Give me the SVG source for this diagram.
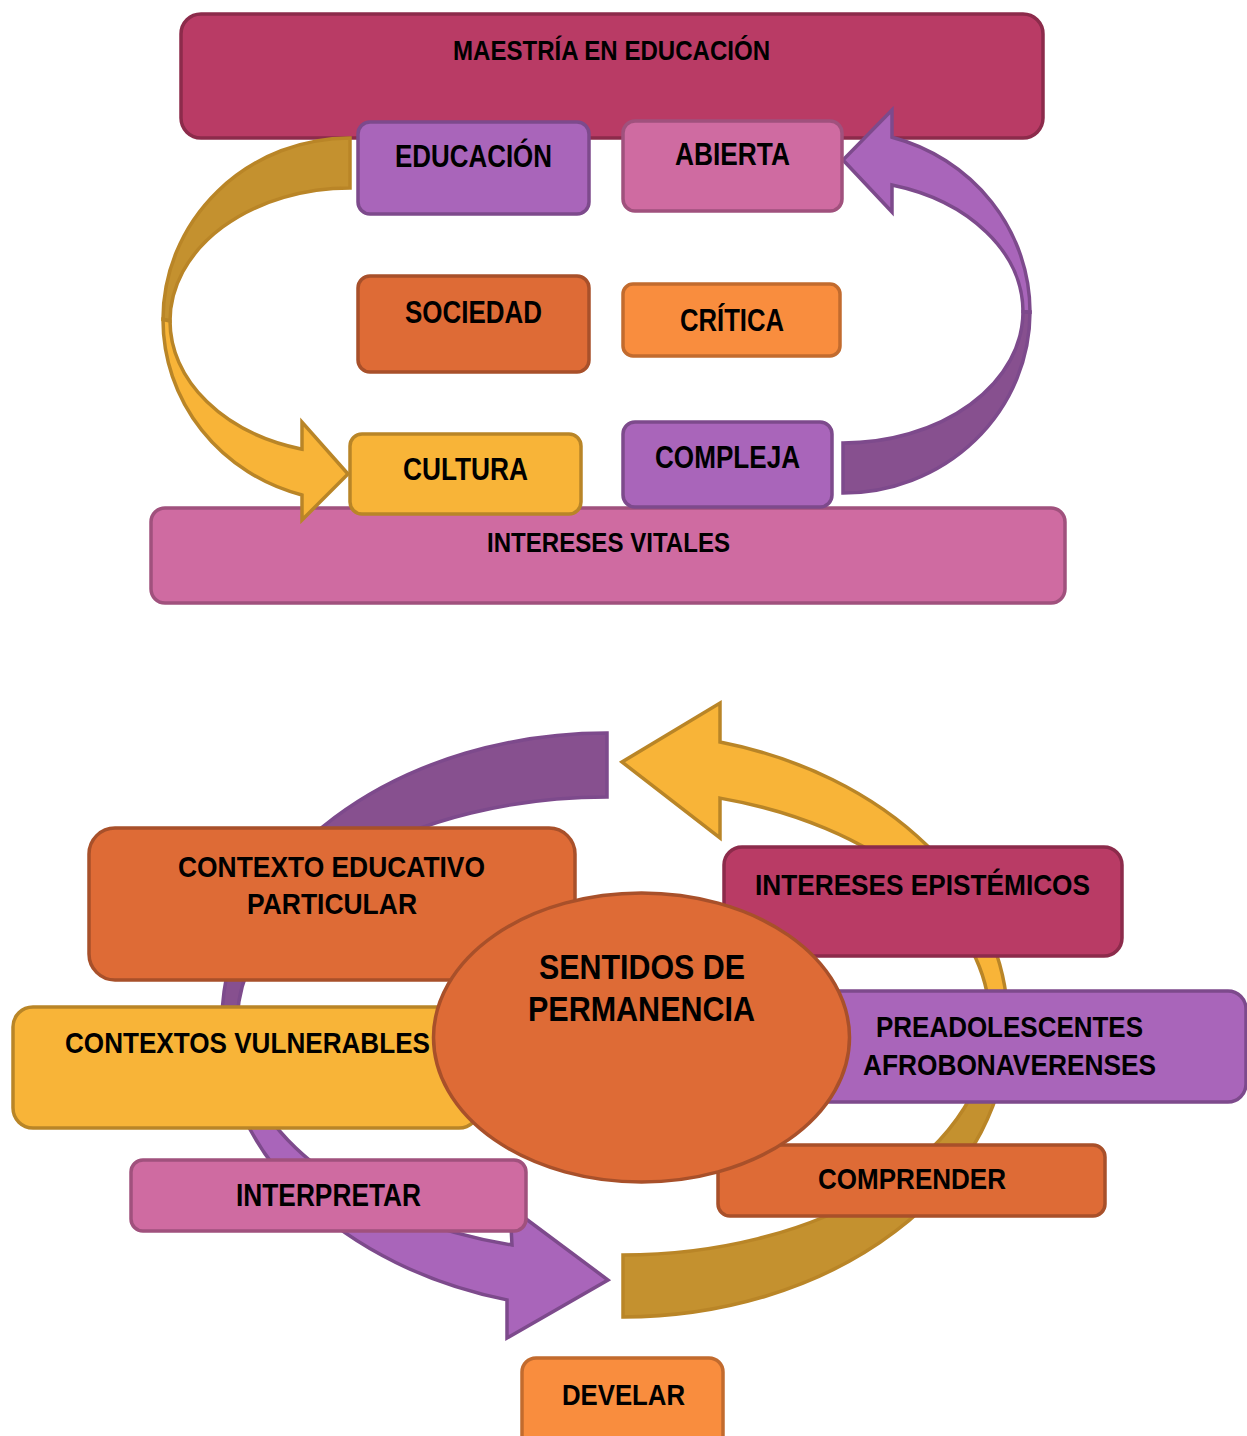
<svg xmlns="http://www.w3.org/2000/svg" width="1247" height="1436" viewBox="0 0 1247 1436">
<style>
text{font-family:"Liberation Sans",Arial,sans-serif;font-weight:bold;fill:#000;text-anchor:middle}
.b{stroke-width:3.5}
.mag{fill:#B93B65;stroke:#8C2B4B}
.pur{fill:#A965BA;stroke:#7D4A8C}
.pink{fill:#CF6BA1;stroke:#A0517D}
.org{fill:#DE6B36;stroke:#A8502A}
.lor{fill:#F98D3E;stroke:#C26B2E}
.yel{fill:#F8B438;stroke:#B98527}
.ydk{fill:#C4912F;stroke:#B98527;stroke-width:3.5;stroke-linejoin:miter}
.ylt{fill:#F8B438;stroke:#B98527;stroke-width:3.5;stroke-linejoin:miter}
.pdk{fill:#87508F;stroke:#7D4A8C;stroke-width:3.5;stroke-linejoin:miter}
.plt{fill:#A965BA;stroke:#7D4A8C;stroke-width:3.5;stroke-linejoin:miter}
</style>
<g id="n-intereses-vitales"><rect class="pink b" x="151" y="508" width="914" height="95" rx="14"/><text x="608.5" y="552" font-size="28" textLength="243" lengthAdjust="spacingAndGlyphs">INTERESES VITALES</text></g>
<g id="n-maestria"><rect class="mag b" x="181" y="14" width="862" height="124" rx="20"/><text x="611.5" y="60" font-size="27" textLength="317" lengthAdjust="spacingAndGlyphs">MAESTRÍA EN EDUCACIÓN</text></g>
<g id="connectors">
  <g id="arrow-top-left">
    <path class="ydk" d="M 350 138 A 187 181.5 0 0 0 163 319.5 L 170 321 A 180 133 0 0 1 350 188 Z"/>
    <path class="ylt" d="M 163 319.5 A 187 181.5 0 0 0 302 495 L 302 520 L 348 474 L 302 422 L 302 449.2 A 180 133 0 0 1 170 321 Z"/>
  </g>
  <g id="arrow-top-right">
    <path class="pdk" d="M 1030 312 A 187 181 0 0 1 843 493 L 843 443 A 180 131.5 0 0 0 1023 311.5 Z"/>
    <path class="plt" d="M 1030 312 A 187 181 0 0 0 892 137.2 L 892 110 L 843 160 L 892 212 L 892 185 A 180 131.5 0 0 1 1023 311.5 Z"/>
  </g>
  <g id="arrow-bottom-left">
    <path class="pdk" d="M 607 733 A 385 288.4 0 0 0 222 1021.4 L 237 1024.8 A 370 227.8 0 0 1 607 797 Z"/>
    <path class="plt" d="M 222 1021.4 A 385 288.4 0 0 0 507 1299.9 L 507 1338 L 608 1280 L 510 1207 L 512 1245 A 370 227.8 0 0 1 237 1024.8 Z"/>
  </g>
  <g id="arrow-bottom-right">
    <path class="ydk" d="M 1008 1024.8 A 385 292.2 0 0 1 623 1317 L 623 1255 A 367 232.6 0 0 0 990 1022.4 Z"/>
    <path class="ylt" d="M 1008 1024.8 A 385 292.2 0 0 0 720 742 L 720 703 L 622 762 L 720 838 L 720 798.1 A 367 232.6 0 0 1 990 1022.4 Z"/>
  </g>
</g>
<g id="n-educacion"><rect class="pur b" x="358" y="122" width="231" height="92" rx="12"/><text x="473.5" y="167" font-size="31" textLength="157" lengthAdjust="spacingAndGlyphs">EDUCACIÓN</text></g>
<g id="n-abierta"><rect class="pink b" x="623" y="121" width="219" height="90" rx="12"/><text x="732.5" y="165" font-size="31" textLength="115" lengthAdjust="spacingAndGlyphs">ABIERTA</text></g>
<g id="n-sociedad"><rect class="org b" x="358" y="276" width="231" height="96" rx="12"/><text x="473.5" y="323" font-size="31" textLength="137" lengthAdjust="spacingAndGlyphs">SOCIEDAD</text></g>
<g id="n-critica"><rect class="lor b" x="623" y="284" width="217" height="72" rx="10"/><text x="732" y="331" font-size="31" textLength="104" lengthAdjust="spacingAndGlyphs">CRÍTICA</text></g>
<g id="n-cultura"><rect class="yel b" x="350" y="434" width="231" height="80" rx="12"/><text x="465.5" y="480" font-size="31" textLength="125" lengthAdjust="spacingAndGlyphs">CULTURA</text></g>
<g id="n-compleja"><rect class="pur b" x="623" y="422" width="209" height="85" rx="12"/><text x="727.5" y="468" font-size="31" textLength="145" lengthAdjust="spacingAndGlyphs">COMPLEJA</text></g>

<g id="n-contexto-educativo"><rect class="org b" x="89" y="828" width="486" height="152" rx="26"/><text x="331.5" y="877" font-size="30" textLength="307" lengthAdjust="spacingAndGlyphs">CONTEXTO EDUCATIVO</text><text x="332" y="914" font-size="30" textLength="170" lengthAdjust="spacingAndGlyphs">PARTICULAR</text></g>
<g id="n-intereses-epistemicos"><rect class="mag b" x="724" y="847" width="398" height="109" rx="18"/><text x="922.5" y="895" font-size="30" textLength="335" lengthAdjust="spacingAndGlyphs">INTERESES EPISTÉMICOS</text></g>
<g id="n-contextos-vulnerables"><rect class="yel b" x="13" y="1007" width="466" height="121" rx="20"/><text x="247.5" y="1053" font-size="30" textLength="365" lengthAdjust="spacingAndGlyphs">CONTEXTOS VULNERABLES</text></g>
<g id="n-preadolescentes"><rect class="pur b" x="800" y="991" width="446" height="111" rx="18"/><text x="1009.5" y="1037" font-size="30" textLength="267" lengthAdjust="spacingAndGlyphs">PREADOLESCENTES</text><text x="1009.5" y="1075" font-size="30" textLength="293" lengthAdjust="spacingAndGlyphs">AFROBONAVERENSES</text></g>
<g id="n-comprender"><rect class="org b" x="718" y="1145" width="387" height="71" rx="12"/><text x="912" y="1189" font-size="30" textLength="188" lengthAdjust="spacingAndGlyphs">COMPRENDER</text></g>
<g id="n-interpretar"><rect class="pink b" x="131" y="1160" width="395" height="71" rx="12"/><text x="328.5" y="1206" font-size="31" textLength="185" lengthAdjust="spacingAndGlyphs">INTERPRETAR</text></g>
<g id="n-develar"><rect class="lor b" x="522" y="1358" width="201" height="92" rx="14"/><text x="623.5" y="1405" font-size="30" textLength="123" lengthAdjust="spacingAndGlyphs">DEVELAR</text></g>
<g id="n-sentidos"><ellipse class="org b" cx="641.5" cy="1037.5" rx="208" ry="144.5"/><text x="642" y="979" font-size="35" textLength="206" lengthAdjust="spacingAndGlyphs">SENTIDOS DE</text><text x="641.5" y="1021" font-size="35" textLength="227" lengthAdjust="spacingAndGlyphs">PERMANENCIA</text></g>
</svg>
